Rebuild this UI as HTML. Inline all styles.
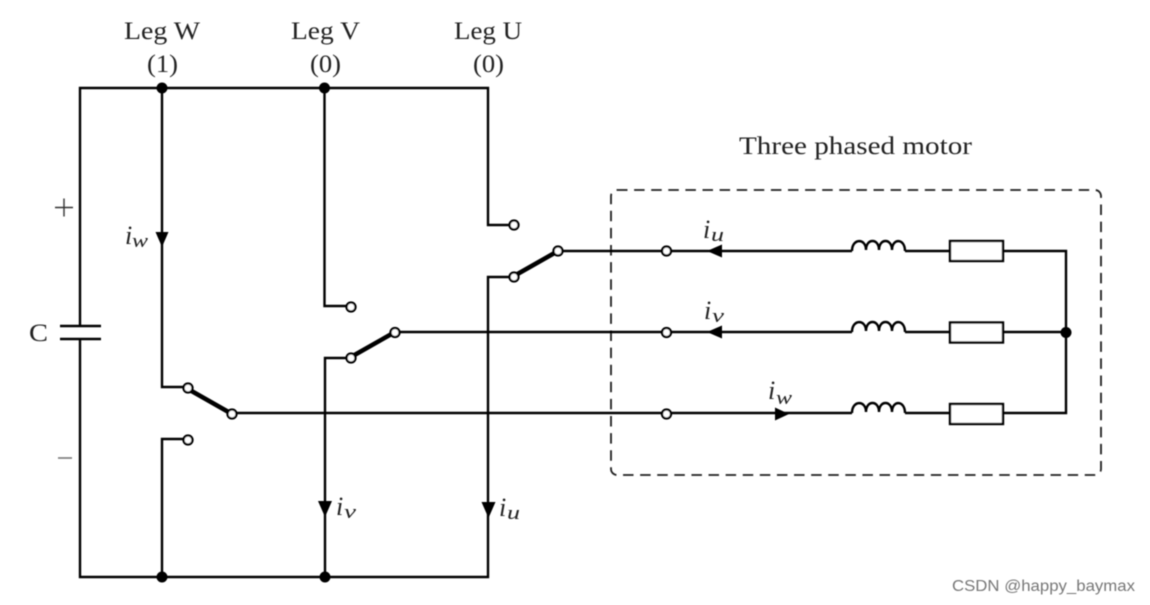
<!DOCTYPE html>
<html>
<head>
<meta charset="utf-8">
<style>
html,body{margin:0;padding:0;background:#fff;}
svg{display:block;}
text{font-family:"Liberation Serif",serif;fill:#222;}
.l{font-size:25px;}
.i{font-size:26px;font-style:italic;}
.s{font-size:19px;font-style:italic;}
</style>
</head>
<body>
<svg width="1150" height="605" viewBox="0 0 1150 605" xmlns="http://www.w3.org/2000/svg">
<defs>
<filter id="b" x="-5%" y="-5%" width="110%" height="110%"><feGaussianBlur stdDeviation="0.45"/></filter>
</defs>
<rect width="1150" height="605" fill="#fff"/>
<g filter="url(#b)">
<!-- dashed box -->
<rect x="611" y="190" width="490" height="285" rx="6" fill="none" stroke="#222" stroke-width="1.800" stroke-dasharray="10.500 6.600"/>
<g fill="none" stroke="#000" stroke-width="2.400">
<!-- frame -->
<path d="M80 326V88H488V225H514"/>
<path d="M80 339V577H488V277H514"/>
<path d="M162 88V387H188"/>
<path d="M162 577V439H188"/>
<path d="M324.500 88V306H351"/>
<path d="M325 577V358H351"/>
<!-- horizontals -->
<path d="M558 251H852M905 251H950M1003 251H1066V413H1003M950 413H905M852 413H232"/>
<path d="M395 332H852M905 332H950M1003 332H1066"/>
<!-- inductors -->
<path d="M852 251C852 238 866 238 866 250C866 238 879 238 879 250C879 238 892 238 892 250C892 238 905 238 905 251"/>
<path d="M852 332C852 319 866 319 866 331C866 319 879 319 879 331C879 319 892 319 892 331C892 319 905 319 905 332"/>
<path d="M852 413C852 400 866 400 866 412C866 400 879 400 879 412C879 400 892 400 892 412C892 400 905 400 905 413"/>
<!-- resistors -->
<rect x="950" y="241" width="53" height="20" fill="#fff"/>
<rect x="950" y="322.500" width="53" height="20" fill="#fff"/>
<rect x="950" y="404" width="53" height="20" fill="#fff"/>
<!-- capacitor -->
<path d="M60 326H101M60 339H101" stroke-width="2.600"/>
<!-- switch blades -->
<path d="M188 389L232 414M351 357L395 332M514 276L558 251" stroke-width="4.500"/>
</g>
<!-- arrows -->
<g fill="#000">
<path d="M155.500 232H168.500L162 247Z"/>
<path d="M318 501H332L325 517Z"/>
<path d="M481.500 502H495.500L488.500 518Z"/>
<path d="M707 251L722 244.500V257.500Z"/>
<path d="M707 332L722 325.500V338.500Z"/>
<path d="M789 414L775 407.500V420.500Z"/>
<circle cx="162" cy="88" r="5.500"/>
<circle cx="324.500" cy="88" r="5.500"/>
<circle cx="162" cy="577" r="5.500"/>
<circle cx="325" cy="577" r="5.500"/>
<circle cx="1066" cy="332.500" r="5.500"/>
</g>
<!-- terminals -->
<g fill="#fff" stroke="#000" stroke-width="2.300">
<circle cx="188" cy="388" r="4.500"/>
<circle cx="232" cy="414" r="4.500"/>
<circle cx="188" cy="440" r="4.500"/>
<circle cx="351" cy="307" r="4.500"/>
<circle cx="351" cy="358" r="4.500"/>
<circle cx="395" cy="332.500" r="4.500"/>
<circle cx="514" cy="225" r="4.500"/>
<circle cx="514" cy="277" r="4.500"/>
<circle cx="558" cy="251" r="4.500"/>
<circle cx="666.500" cy="251" r="4.500"/>
<circle cx="666.500" cy="332.500" r="4.500"/>
<circle cx="666.500" cy="414" r="4.500"/>
</g>
<!-- labels -->
<text class="l" x="124" y="39" textLength="76" lengthAdjust="spacingAndGlyphs">Leg W</text>
<text class="l" x="147" y="72" textLength="31" lengthAdjust="spacingAndGlyphs">(1)</text>
<text class="l" x="291" y="39" textLength="69" lengthAdjust="spacingAndGlyphs">Leg V</text>
<text class="l" x="310" y="72" textLength="31" lengthAdjust="spacingAndGlyphs">(0)</text>
<text class="l" x="454" y="39" textLength="68" lengthAdjust="spacingAndGlyphs">Leg U</text>
<text class="l" x="473" y="72" textLength="31" lengthAdjust="spacingAndGlyphs">(0)</text>
<text class="l" x="739" y="154" textLength="233" lengthAdjust="spacingAndGlyphs">Three phased motor</text>
<text class="l" x="29" y="341" textLength="19" lengthAdjust="spacingAndGlyphs">C</text>
<path d="M55 207.500H73M64 198.500V216.500" stroke="#333" stroke-width="1.400" fill="none"/>
<path d="M58 458H72" stroke="#777" stroke-width="1.600" fill="none"/>
<text class="i" x="125" y="244">i</text><text class="s" x="132" y="247" textLength="16" lengthAdjust="spacingAndGlyphs">w</text>
<text class="i" x="336" y="515">i</text><text class="s" x="344" y="518" textLength="12" lengthAdjust="spacingAndGlyphs">v</text>
<text class="i" x="499" y="516">i</text><text class="s" x="507" y="519" textLength="13" lengthAdjust="spacingAndGlyphs">u</text>
<text class="i" x="703" y="238">i</text><text class="s" x="711" y="241" textLength="13" lengthAdjust="spacingAndGlyphs">u</text>
<text class="i" x="704" y="319">i</text><text class="s" x="712" y="322" textLength="12" lengthAdjust="spacingAndGlyphs">v</text>
<text class="i" x="768" y="399">i</text><text class="s" x="776" y="404" textLength="16" lengthAdjust="spacingAndGlyphs">w</text>
<text x="952" y="591" style="font-family:'Liberation Sans',sans-serif;font-size:15.500px;fill:#777" textLength="183" lengthAdjust="spacingAndGlyphs">CSDN @happy_baymax</text>
</g>
</svg>
</body>
</html>
